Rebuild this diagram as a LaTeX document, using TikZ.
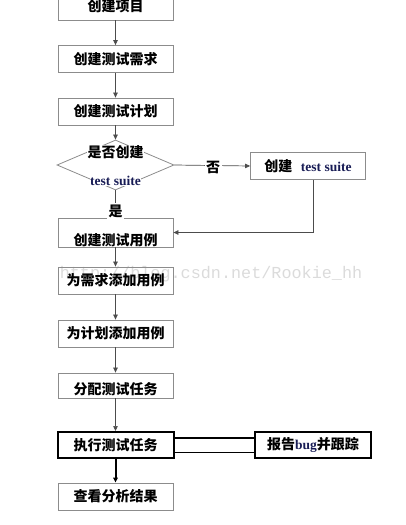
\documentclass[tikz,border=0pt]{standalone}
\usepackage{fontspec}
\setmainfont{Liberation Serif}
\newfontfamily\cjk{Noto Sans CJK SC}
\newfontfamily\wmfont{Liberation Mono}
\usetikzlibrary{shapes.geometric,arrows.meta}
\definecolor{navy}{HTML}{181C55}
\definecolor{boxgray}{gray}{0.55}
\definecolor{linegray}{gray}{0.3}
\newcommand{\tsuite}[1]{{\rmfamily\bfseries\color{navy}\fontsize{13.5}{15}\selectfont #1}}
\begin{document}
\begin{tikzpicture}[x=1pt,y=-1pt,
  lbl/.style={font=\cjk\bfseries\fontsize{14}{16}\selectfont, inner sep=1pt},
  box/.style={draw=boxgray, line width=0.8pt, minimum width=115pt, minimum height=27pt, inner sep=0pt, lbl},
  tbox/.style={draw=black, line width=2pt, minimum width=116pt, minimum height=26pt, inner sep=0pt, lbl},
  conn/.style={draw=linegray, line width=0.7pt},
  arr/.style={conn, -{Triangle[length=5pt,width=4.5pt]}}
]
\useasboundingbox (0,0) rectangle (406,525);
% watermark
\node[font=\wmfont\fontsize{16.8}{18}\selectfont, text=black!14, inner sep=0pt] (wm) at (211,274) {http://blog.csdn.net/Rookie\_hh};

\node[box] (b1) at (115.5,6.5) {创建项目};
\node[box] (b2) at (115.5,59) {创建测试需求};
\node[box] (b3) at (115.5,111.5) {创建测试计划};
\node[draw=boxgray, line width=0.8pt, diamond, minimum width=117pt, minimum height=50pt, inner sep=0pt] (d) at (115.5,165) {};
\node[box] (b4) at (308,166) {创建\hspace{0.6em}\tsuite{test suite}};
\node[box, minimum height=29pt] (b5) at (115.5,232.5) {};
\node[lbl] (b5t) at (115.5,240) {创建测试用例};
\node[box] (b6) at (115.5,280.5) {为需求添加用例};
\node[box] (b7) at (115.5,333.5) {为计划添加用例};
\node[box, minimum height=25pt] (b8) at (115.5,385.5) {};
\node[lbl] (b8t) at (115.5,389) {分配测试任务};
\node[tbox] (b9) at (115.5,445) {执行测试任务};
\node[tbox] (b11) at (313,445) {报告\tsuite{bug}并跟踪};
\node[box] (b10) at (115.5,496.5) {查看分析结果};

\draw[arr] (b1) -- (b2);
\draw[arr] (b2) -- (b3);
\draw[arr] (b3) -- (d.north);
\draw[conn] (d.south) -- (b5.north);
\draw[arr] (d.east) -- (b4.west);
\draw[arr] ([xshift=5pt]b4.south) |- (b5.east);
\draw[arr] (b5) -- (b6);
\draw[arr] (b6) -- (b7);
\draw[arr] (b7) -- (b8);
\draw[arr] (b8) -- (b9);
\draw[line width=2pt, -{Triangle[length=5pt,width=4.5pt]}] (b9) -- (b10);
\draw[line width=1.6pt, double distance=13pt] (b9.east) -- (b11.west);

\node[lbl, fill=white, inner sep=0.5pt] (q1) at (115.5,152) {是否创建};
\node[fill=white, inner sep=0.5pt] (q2) at (115.5,181) {\tsuite{test suite}};
\node[lbl, fill=white, inner sep=1.5pt] (no) at (213,167) {否};
\node[lbl, fill=white, inner sep=1.5pt] (yes) at (115.5,211) {是};
\end{tikzpicture}
\end{document}
